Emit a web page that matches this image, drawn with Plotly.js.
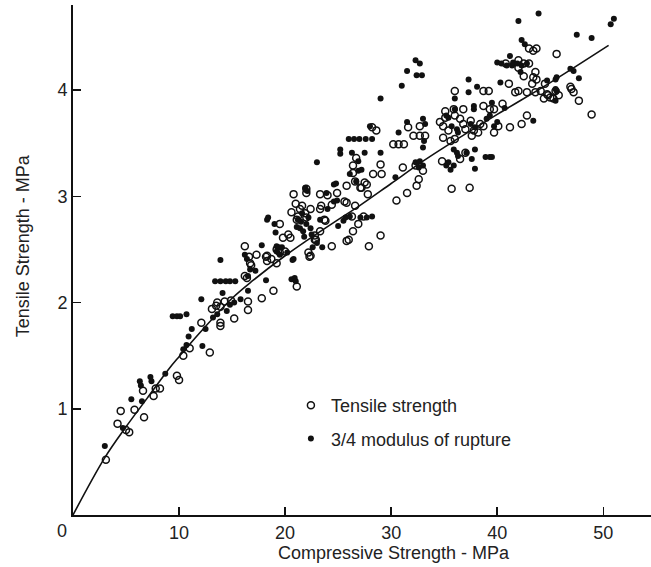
<!DOCTYPE html>
<html>
<head>
<meta charset="utf-8">
<script src="https://cdn.plot.ly/plotly-3.0.1.min.js"></script>
<style>html,body{margin:0;padding:0;background:#fff;}#chart{width:651px;height:567px;}</style>
</head>
<body>
<div id="chart"></div>
<script>
// Tensile strength (open circles)
const tensileX = [3.1,4.2,4.5,5.0,5.3,5.8,6.7,6.6,7.6,7.8,8.2,9.8,10.0,10.4,11.0,12.1,12.9,13.1,13.5,13.6,13.9,13.9,13.9,14.3,14.9,15.2,16.2,16.2,16.4,16.5,16.5,16.6,16.7,16.8,17.3,17.8,18.2,18.3,18.3,18.7,18.9,19.2,19.2,19.5,19.5,19.8,20.0,20.3,20.5,20.6,20.8,21.0,21.1,21.1,21.2,21.4,21.6,21.9,22.0,22.0,22.0,22.2,22.3,22.4,22.4,22.8,22.8,22.9,23.3,23.3,23.3,23.4,23.7,23.8,24.0,24.4,24.4,24.9,25.6,25.8,25.8,25.8,26.0,26.3,26.4,26.4,26.4,26.6,26.6,26.7,26.9,27.1,27.2,27.4,27.5,27.7,27.8,27.9,28.2,28.3,28.6,29.0,29.0,29.1,30.2,30.5,30.7,31.2,31.1,31.5,31.6,32.1,32.3,32.4,32.6,32.7,32.7,33.0,33.2,34.6,34.8,34.9,34.9,35.1,35.1,35.4,35.6,35.7,35.9,36.0,36.0,36.0,36.5,36.5,36.8,36.8,37.0,37.0,37.4,37.5,37.6,37.8,38.2,38.4,38.7,38.7,38.7,39.2,39.3,39.7,39.7,40.1,40.5,40.8,41.1,41.2,41.7,42.0,42.0,42.0,42.3,42.5,42.5,42.8,42.8,43.0,43.0,43.3,43.4,43.4,43.6,43.6,43.7,43.7,44.1,44.4,44.5,44.7,44.8,45.0,45.3,45.5,45.6,45.8,46.9,47.0,47.2,47.7,48.9];
const tensileY = [0.52,0.86,0.98,0.80,0.78,0.99,0.92,1.17,1.12,1.19,1.19,1.31,1.27,1.50,1.57,1.81,1.53,1.94,1.97,2.00,1.81,1.78,1.96,2.01,2.02,1.85,2.53,2.25,2.23,2.01,1.93,2.43,2.37,2.35,2.45,2.04,2.43,2.44,2.39,2.41,2.11,2.37,2.50,2.74,2.47,2.61,2.48,2.64,2.61,2.85,3.02,2.93,2.78,2.15,2.81,2.88,2.91,2.84,3.07,3.03,2.80,2.47,2.43,2.88,2.44,2.59,2.63,2.59,3.02,2.88,2.67,2.91,2.78,2.77,3.01,2.53,2.92,3.03,2.95,3.10,2.58,2.94,2.59,2.81,3.22,3.29,2.67,3.14,2.91,3.36,2.74,3.08,3.08,2.81,3.13,3.11,3.02,2.53,3.65,3.21,3.62,3.30,2.63,3.21,3.49,2.96,3.49,3.49,3.27,3.03,3.65,3.57,3.29,3.10,3.16,3.66,3.57,3.24,3.57,3.70,3.33,3.66,3.55,3.80,3.74,3.62,3.52,3.07,3.82,3.99,3.54,3.76,3.73,3.35,3.82,3.68,3.63,3.41,3.08,3.71,3.57,3.62,3.60,3.68,3.66,3.99,3.85,3.99,3.82,3.82,3.60,3.66,3.87,4.25,4.06,3.65,3.98,3.99,4.28,4.21,3.68,4.25,4.13,3.98,3.76,4.39,4.25,4.06,4.37,4.12,3.98,4.17,4.39,4.10,3.99,3.92,4.06,3.96,3.95,3.93,3.92,3.99,4.34,3.95,4.03,4.01,3.98,3.90,3.77];

// 3/4 modulus of rupture (filled dots)
const ruptureX = [3.0,4.7,5.5,6.5,6.3,6.4,7.3,7.4,8.7,9.4,9.8,10.1,10.7,10.4,10.7,10.9,11.2,12.2,12.1,12.5,13.2,13.6,13.4,13.9,14.4,14.8,15.3,13.9,14.1,14.5,14.8,15.2,15.8,16.2,16.4,16.5,16.5,16.7,17.2,17.8,18.2,18.3,18.4,19.0,19.1,19.2,19.4,19.2,19.5,19.7,20.2,20.7,20.8,20.6,20.9,21.0,21.1,21.2,21.4,21.5,21.6,21.7,21.8,21.9,22.0,22.1,22.2,22.4,22.5,22.6,23.0,23.0,23.3,23.5,23.9,24.0,24.6,24.6,24.8,24.9,25.0,25.2,25.2,25.5,25.7,26.0,26.5,27.0,27.6,28.2,26.1,26.1,26.3,26.7,26.9,26.9,27.1,27.2,27.5,27.7,28.0,28.2,29.0,29.0,30.4,30.7,31.0,31.5,31.5,32.3,32.7,32.4,32.9,32.3,32.7,33.0,32.6,33.0,33.2,33.0,33.1,35.2,35.2,35.4,35.6,35.9,35.4,35.7,35.9,36.0,36.0,36.2,36.2,36.3,36.3,37.1,37.3,37.3,37.5,37.6,37.8,37.8,37.9,37.9,37.9,38.1,38.9,39.0,39.3,39.3,39.5,39.5,39.7,40.0,40.0,40.3,40.4,40.9,40.7,41.2,41.4,41.5,41.9,42.0,42.2,42.3,42.3,42.6,42.8,43.4,43.9,44.7,45.5,45.5,45.6,45.5,45.6,46.9,47.2,47.5,47.7,48.9,50.7,51.0];
const ruptureY = [0.65,0.82,1.09,1.07,1.26,1.22,1.30,1.26,1.33,1.87,1.87,1.87,1.89,1.56,1.60,1.68,1.75,1.59,2.03,1.75,1.86,1.89,2.20,2.20,2.20,2.20,2.20,2.40,2.09,1.92,1.98,2.00,2.03,2.45,2.41,2.11,2.25,2.31,2.30,2.54,2.21,2.78,2.80,2.74,2.66,2.53,2.52,2.48,2.45,2.52,2.47,2.40,2.41,2.22,2.23,2.20,2.71,2.78,2.70,2.76,2.84,2.67,2.62,3.08,2.74,3.05,2.80,2.70,2.64,2.52,2.56,3.32,2.78,2.52,3.03,2.88,2.95,3.11,3.12,2.96,2.72,3.44,3.40,2.77,2.80,3.54,3.54,3.54,3.54,3.54,2.81,3.21,3.41,3.14,3.33,3.24,2.80,3.25,3.41,2.80,3.66,2.81,3.41,3.92,3.18,3.60,4.04,4.18,3.70,4.28,4.25,4.14,4.14,3.32,3.33,3.29,3.27,3.73,3.68,3.46,3.52,3.76,3.29,3.32,3.25,3.29,3.74,3.66,3.44,3.92,3.82,3.63,3.41,3.60,3.38,3.41,4.10,3.98,3.68,3.35,3.85,3.82,3.65,3.44,3.26,4.03,3.37,3.73,3.76,3.37,3.37,3.88,3.66,3.70,4.26,4.07,4.25,4.23,3.83,4.32,4.23,4.26,4.25,4.65,4.17,4.47,4.23,4.43,4.25,3.71,4.72,4.09,4.10,4.01,3.99,3.90,4.12,4.20,4.18,4.52,4.11,4.49,4.62,4.67];

// Fitted curve
const curveX = [0,3,5,7,9,10,12,15,17,20,22,25,27,30,33,35,40,45,50.5];
const curveY = [0,0.54,0.83,1.10,1.37,1.49,1.72,2.04,2.21,2.44,2.58,2.78,2.91,3.12,3.33,3.46,3.77,4.07,4.42];

const xTicks = [10,20,30,40,50];
const yTicks = [1,2,3,4];

const FONT = 'Liberation Sans, Arial, Helvetica, sans-serif';
const TXT = '#222';
const FS = 18;

const traces = [
  {x: curveX, y: curveY, mode: 'lines', line: {color: '#111', width: 1.6, shape: 'spline'}, showlegend: false, hoverinfo: 'skip'},
  {x: tensileX, y: tensileY, mode: 'markers', name: 'Tensile strength', legendgroup: 'a',
   marker: {symbol: 'circle-open', size: 7, color: '#111', line: {width: 1.5, color: '#111'}}},
  {x: ruptureX, y: ruptureY, mode: 'markers', name: '3/4 modulus of rupture', legendgroup: 'b',
   marker: {symbol: 'circle', size: 6, color: '#111'}}
];

const layout = {
  width: 651, height: 567,
  margin: {l: 73, r: 0, t: 5, b: 52},
  paper_bgcolor: '#fff', plot_bgcolor: '#fff',
  font: {family: FONT, size: FS, color: TXT},
  xaxis: {range: [0, 54.5], tickvals: xTicks, ticks: 'inside', ticklen: 8, tickwidth: 1.5, tickcolor: '#111',
          showline: true, linecolor: '#111', linewidth: 2, showgrid: false, zeroline: false,
          tickfont: {family: FONT, size: FS, color: TXT}},
  yaxis: {range: [0, 4.8], tickvals: yTicks, ticks: 'inside', ticklen: 8, tickwidth: 1.5, tickcolor: '#111',
          showline: true, linecolor: '#111', linewidth: 2, showgrid: false, zeroline: false,
          tickfont: {family: FONT, size: FS, color: TXT}},
  showlegend: true,
  legend: {x: 0.377, y: 0.251, xanchor: 'left', yanchor: 'top', bgcolor: 'rgba(0,0,0,0)', borderwidth: 0,
           tracegroupgap: 7, font: {family: FONT, size: FS, color: TXT}},
  annotations: [
    {text: '0', xref: 'paper', yref: 'paper', x: -0.019, y: -0.031, showarrow: false, xanchor: 'center', yanchor: 'middle',
     font: {family: FONT, size: FS, color: TXT}},
    {text: 'Compressive Strength - MPa', xref: 'paper', yref: 'paper', x: 0.555, y: -0.0745, showarrow: false,
     xanchor: 'center', yanchor: 'middle', font: {family: FONT, size: FS, color: TXT}},
    {text: 'Tensile Strength - MPa', xref: 'paper', yref: 'paper', x: -0.0865, y: 0.527, showarrow: false,
     textangle: -90, xanchor: 'center', yanchor: 'middle', font: {family: FONT, size: FS, color: TXT}}
  ]
};

Plotly.newPlot('chart', traces, layout, {displayModeBar: false, staticPlot: true});
</script>
</body>
</html>
